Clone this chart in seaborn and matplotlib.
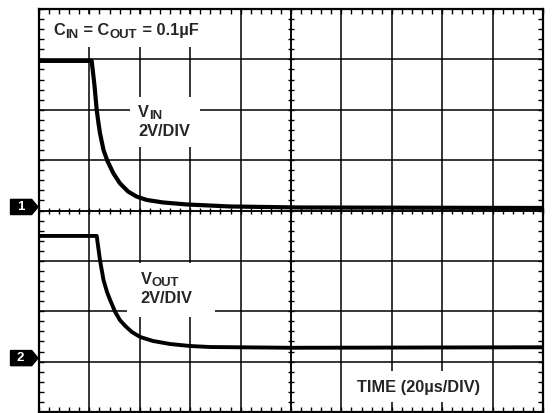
import numpy as np
import pandas as pd
import matplotlib
matplotlib.use("Agg")
import matplotlib.pyplot as plt
import seaborn as sns
from matplotlib.patches import Rectangle, Polygon
from matplotlib.ticker import MultipleLocator

# ---- data (time in µs, voltage in V) ----
t_vin = [0, 20.9, 22.0, 22.9, 23.6, 24.2, 25.6, 27.1, 29.5, 32.1, 35.4, 38.8, 42.7,
         49.2, 58.6, 75.8, 103.6, 200.0]
v_vin = [5.94, 5.94, 4.98, 3.99, 3.47, 3.07, 2.40, 1.98, 1.48, 1.08, 0.75, 0.55, 0.42,
         0.32, 0.24, 0.16, 0.12, 0.10]

t_vout = [0, 22.9, 24.2, 25.6, 27.0, 28.2, 30.2, 32.1, 34.1, 36.8, 40.1, 45.2, 52.0,
          59.9, 67.9, 100.0, 200.0]
v_vout = [4.99, 4.99, 4.03, 3.24, 2.76, 2.45, 1.98, 1.65, 1.43, 1.18, 0.98, 0.82, 0.70,
          0.62, 0.58, 0.55, 0.57]

channel_names = ["1", "2"]
channel_ground_div = [4, 1]      # ground marker position (divisions from bottom)
volts_per_div = 2.0
time_per_div = 20.0              # µs
n_xdiv, n_ydiv = 10, 8

label_cap_parts = [("C", False), ("IN", True), (" = C", False), ("OUT", True), (" = 0.1µF", False)]
label_vin_parts = [("V", False), ("IN", True)]
label_vout_parts = [("V", False), ("OUT", True)]
label_scale = "2V/DIV"
label_time = "TIME (20µs/DIV)"

# ---- style ----
sns.set_style("white")
plt.rcParams["font.family"] = ["Liberation Sans", "DejaVu Sans"]
plt.rcParams["font.weight"] = "bold"

W, H = 555, 413
fig = plt.figure(figsize=(W / 100, H / 100), dpi=100)
fig.patch.set_facecolor("white")
rect = [39 / W, 1 / H, 504 / W, 403 / H]

xmax = n_xdiv * time_per_div
ymax = n_ydiv

# center axes (crossing minor ticks) underneath
ax2 = fig.add_axes(rect, zorder=0)
ax2.set_xlim(0, xmax)
ax2.set_ylim(0, ymax)
ax2.patch.set_visible(False)
for s in ["top", "right"]:
    ax2.spines[s].set_visible(False)
ax2.spines["left"].set_position(("data", xmax / 2))
ax2.spines["bottom"].set_position(("data", ymax / 2))
for s in ["left", "bottom"]:
    ax2.spines[s].set_color("black")
    ax2.spines[s].set_linewidth(1.1)
ax2.xaxis.set_major_locator(MultipleLocator(time_per_div))
ax2.xaxis.set_minor_locator(MultipleLocator(time_per_div / 5))
ax2.yaxis.set_major_locator(MultipleLocator(1))
ax2.yaxis.set_minor_locator(MultipleLocator(0.2))
ax2.tick_params(which="both", direction="inout", length=4, width=1.0, color="black",
                labelbottom=False, labelleft=False, bottom=True, left=True)

ax = fig.add_axes(rect, zorder=1)
ax.patch.set_visible(False)
ax.set_xlim(0, xmax)
ax.set_ylim(0, ymax)
ax.set_axisbelow(False)

# grid
for gx in np.arange(0, xmax + 0.1, time_per_div):
    ax.axvline(gx, color="black", lw=1.1, zorder=1)
for gy in np.arange(0, ymax + 0.1, 1):
    ax.axhline(gy, color="black", lw=1.1, zorder=1)

# white label boxes that break the grid
def px_box(x0, y0, x1, y1):
    dx0 = (x0 - 39) / 50.4 * time_per_div
    dx1 = (x1 - 39) / 50.4 * time_per_div
    dy0 = (412 - y1) / 50.375
    dy1 = (412 - y0) / 50.375
    ax.add_patch(Rectangle((dx0, dy0), dx1 - dx0, dy1 - dy0, facecolor="white",
                           edgecolor="none", zorder=2))

px_box(45, 14, 228, 47)
px_box(130, 97, 200, 147)
px_box(127, 263, 215, 317)
px_box(347, 371, 488, 402)

# traces
df_in = pd.DataFrame({"t": t_vin, "v": v_vin})
df_in["y"] = df_in["v"] / volts_per_div + channel_ground_div[0]
df_out = pd.DataFrame({"t": t_vout, "v": v_vout})
df_out["y"] = df_out["v"] / volts_per_div + channel_ground_div[1]

sns.lineplot(data=df_in, x="t", y="y", color="black", lw=3.0, ax=ax,
             estimator=None, sort=False, zorder=4, solid_joinstyle="round")
sns.lineplot(data=df_out, x="t", y="y", color="black", lw=2.8, ax=ax,
             estimator=None, sort=False, zorder=4, solid_joinstyle="round")
ax.set_xlabel("")
ax.set_ylabel("")

# border ticks
ax.xaxis.set_major_locator(MultipleLocator(time_per_div))
ax.xaxis.set_minor_locator(MultipleLocator(time_per_div / 5))
ax.yaxis.set_major_locator(MultipleLocator(1))
ax.yaxis.set_minor_locator(MultipleLocator(0.2))
ax.tick_params(which="both", direction="in", length=3.5, width=1.0, color="black",
               top=True, right=True, bottom=True, left=True,
               labelbottom=False, labelleft=False)
for s in ax.spines.values():
    s.set_color("black")
    s.set_linewidth(1.6)
    s.set_zorder(6)

# texts
fs = 11.8
sub_scale = 0.8

def rich(x, y, parts):
    first = ax.text(x, y, parts[0][0], fontsize=fs, fontweight="bold",
                    ha="left", va="baseline", zorder=5)
    prev = first
    for s, is_sub in parts[1:]:
        if is_sub:
            a = ax.annotate(s, xy=(1, 0), xycoords=prev, xytext=(0.1, -1.9),
                            textcoords="offset points", fontsize=fs * sub_scale,
                            fontweight="bold", ha="left", va="bottom", zorder=5)
        else:
            a = ax.annotate(s, xy=(1, 0), xycoords=(prev, first), xytext=(0.6, 0),
                            textcoords="offset points", fontsize=fs,
                            fontweight="bold", ha="left", va="bottom", zorder=5)
        prev = a

rich(5.6, 7.48, label_cap_parts)
rich(39.4, 5.86, label_vin_parts)
ax.text(39.4, 5.48, label_scale, fontsize=fs, fontweight="bold", ha="left", va="baseline", zorder=5)
rich(40.3, 2.55, label_vout_parts)
ax.text(40.3, 2.16, label_scale, fontsize=fs, fontweight="bold", ha="left", va="baseline", zorder=5)
ax.text(126.1, 0.39, label_time, fontsize=fs, fontweight="bold", ha="left", va="baseline", zorder=5)

# channel ground markers
for name, g in zip(channel_names, channel_ground_div):
    c = g + 0.07
    hh = 0.15
    pts = [(-11.3, c - hh), (-2.9, c - hh), (-0.4, c), (-2.9, c + hh), (-11.3, c + hh)]
    ax.add_patch(Polygon(pts, closed=True, facecolor="black", edgecolor="black",
                         clip_on=False, zorder=7))
    ax.text(-7.3, c, name, color="white", fontsize=9.5, fontweight="bold",
            ha="center", va="center", clip_on=False, zorder=8)

fig.savefig("out.png", dpi=100, facecolor="white")
